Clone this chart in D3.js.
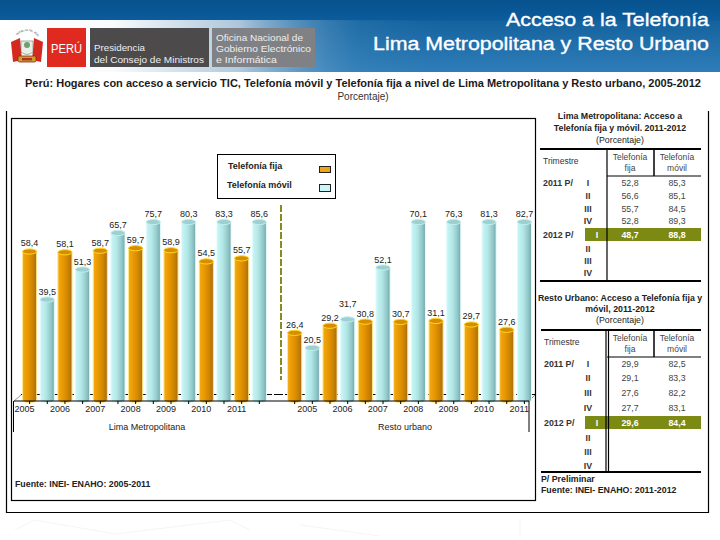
<!DOCTYPE html>
<html><head><meta charset="utf-8">
<script src="https://cdnjs.cloudflare.com/ajax/libs/d3/7.8.5/d3.min.js"></script>
<style>html,body{margin:0;padding:0;background:#fff}svg{display:block}text{font-family:"Liberation Sans",Arial,sans-serif}</style>
</head><body><svg id="c" width="720" height="540"></svg>
<script>
const years=["2005","2006","2007","2008","2009","2010","2011"];
const fijaLima=[58.4,58.1,58.7,59.7,58.9,54.5,55.7];
const movilLima=[39.5,51.3,65.7,75.7,80.3,83.3,85.6];
const fijaUrbano=[26.4,29.2,30.8,30.7,31.1,29.7,27.6];
const movilUrbano=[20.5,31.7,52.1,70.1,76.3,81.3,82.7];
const trimestres=["I","II","III","IV","I","II","III","IV"];
const limaFijaTabla=["52,8","56,6","55,7","52,8","48,7"];
const limaMovilTabla=["85,3","85,1","84,5","89,3","88,8"];
const urbanoFijaTabla=["29,9","29,1","27,6","27,7","29,6"];
const urbanoMovilTabla=["82,5","83,3","82,2","83,1","84,4"];

const svg=d3.select("#c"),defs=svg.append("defs");
function grad(id,stops,x2=1,y2=0){const g=defs.append("linearGradient").attr("id",id).attr("x1",0).attr("y1",0).attr("x2",x2).attr("y2",y2);
 stops.forEach(s=>g.append("stop").attr("offset",s[0]).attr("stop-color",s[1]).attr("stop-opacity",s[2]===undefined?1:s[2]));}
grad("hdr",[[0,"#07528f"],[.27,"#0c5b9b"],[.3,"#14639f"],[1,"#2f7db8"]],0,1);
grad("fade",[[0,"#fff",1],[.16,"#fff",.97],[.33,"#c9d9e6",.85],[.5,"#4d8fc0",.2],[.62,"#2f7db8",0]]);
grad("og",[[0,"#f5aa10"],[.45,"#e49300"],[.75,"#c98200"],[1,"#a8691a"]]);
grad("cg",[[0,"#c9f6f6"],[.4,"#b4e8e8"],[.8,"#8fc4c6"],[1,"#6fa6a8"]]);

/* header */
svg.append("rect").attr("width",720).attr("height",72).attr("fill","url(#hdr)");
svg.append("rect").attr("y",20).attr("width",720).attr("height",52).attr("fill","url(#fade)");
const hdr=svg.append("g").attr("fill","#fff").attr("text-anchor","end").attr("stroke","#fff").attr("stroke-width",.35);
hdr.append("text").attr("x",709).attr("y",26).attr("font-size",18).attr("textLength",203).attr("lengthAdjust","spacingAndGlyphs").text("Acceso a la Telefonía");
hdr.append("text").attr("x",709).attr("y",50).attr("font-size",18).attr("textLength",336).attr("lengthAdjust","spacingAndGlyphs").text("Lima Metropolitana y Resto Urbano");

/* crest */
const cr=svg.append("g");
cr.append("path").attr("d","M11 42 L20 38 L22 60 L13 62 Z M43 42 L34 38 L32 60 L41 62 Z").attr("fill","#d5281e");
const crestText="REPUBLICA DEL PERU";
const crestAngles=Array.from(crestText,(c,i)=>-48+96*i/(crestText.length-1));
cr.append("text").attr("font-size",2.6).attr("fill","#555")
 .attr("x",crestAngles.map(a=>(27+13*Math.sin(a*Math.PI/180)).toFixed(1)).join(" "))
 .attr("y",crestAngles.map(a=>(44-13*Math.cos(a*Math.PI/180)).toFixed(1)).join(" "))
 .attr("rotate",crestAngles.map(a=>a.toFixed(0)).join(" ")).text(crestText);
cr.append("path").attr("d","M21 41 L33 41 L33 52 Q27 57 21 52 Z").attr("fill","#e9efe6").attr("stroke","#777").attr("stroke-width",.6);
cr.append("circle").attr("cx",27).attr("cy",45).attr("r",3).attr("fill","#6fa06f");
cr.append("rect").attr("x",18).attr("y",56).attr("width",18).attr("height",6).attr("rx",1.5).attr("fill","#c8a02a").attr("stroke","#8a2a1c").attr("stroke-width",.8);
cr.append("rect").attr("x",22).attr("y",58).attr("width",10).attr("height",2.4).attr("fill","#b5301f");

/* logo boxes */
const boxes=[[47,39,"#e12a1f"],[90,119,"#4c4a4b"],[212,103,"#808184"]];
svg.append("g").selectAll("rect").data(boxes).join("rect").attr("x",d=>d[0]).attr("y",28).attr("width",d=>d[1]).attr("height",39).attr("fill",d=>d[2]);
const lt=(s,x,y,fs,tl)=>svg.append("text").attr("x",x).attr("y",y).attr("font-size",fs).attr("fill","#eeeeee").attr("textLength",tl).attr("lengthAdjust","spacingAndGlyphs").text(s);
lt("PERÚ",51,53,12,31).attr("fill","#fff");
lt("Presidencia",94,51,9,51);
lt("del Consejo de Ministros",94,63,9,110);
lt("Oficina Nacional de",216,41,9,87);
lt("Gobierno Electrónico",216,52,9,95);
lt("e Informática",216,63,9,61);

/* main title */
svg.append("text").attr("x",25).attr("y",87).attr("font-size",10.5).attr("font-weight","bold").attr("fill","#1a1a1a").attr("textLength",676).attr("lengthAdjust","spacingAndGlyphs")
 .text("Perú: Hogares con acceso a servicio TIC, Telefonía móvil y Telefonía fija a nivel de Lima Metropolitana y Resto urbano, 2005-2012");
svg.append("text").attr("x",363).attr("y",100).attr("text-anchor","middle").attr("font-size",10).attr("fill","#333").text("Porcentaje)");

/* frames */
svg.append("path").attr("d","M6.5 111V512.5H708.5V111").attr("fill","none").attr("stroke","#000").attr("stroke-width",1.2);
svg.append("rect").attr("x",11.5).attr("y",118.5).attr("width",524).attr("height",382).attr("fill","none").attr("stroke","#000").attr("stroke-width",1.2);

/* chart */
const data=[];
years.forEach((y,i)=>{data.push({k:"L"+y+"f",v:fijaLima[i],t:"f"});data.push({k:"L"+y+"m",v:movilLima[i],t:"m"});});
const gapKey="gap";
years.forEach((y,i)=>{data.push({k:"U"+y+"f",v:fijaUrbano[i],t:"f"});data.push({k:"U"+y+"m",v:movilUrbano[i],t:"m"});});
const domain=[];data.forEach((d,i)=>{if(i===14)domain.push(gapKey);domain.push(d.k);});
const x=d3.scaleBand().domain(domain).range([19,535]).padding(.2);
const yS=d3.scaleLinear().domain([0,70]).range([400,222]).clamp(true);
const bw=x.bandwidth(),ry=2.6;
const axisY=401;

svg.append("line").attr("x1",21).attr("x2",535).attr("y1",394.5).attr("y2",394.5).attr("stroke","#000").attr("stroke-width",1).attr("stroke-dasharray","9 2");
svg.append("path").attr("d","M14 401L21 395M529 401L535 395").attr("stroke","#777").attr("fill","none").attr("stroke-width",.8);
svg.append("line").attr("x1",281).attr("x2",281).attr("y1",205).attr("y2",380).attr("stroke","#8a8a22").attr("stroke-width",2).attr("stroke-dasharray","7 2");

const bars=svg.append("g").selectAll("g").data(data).join("g");
bars.append("path")
 .attr("d",d=>{const l=x(d.k),r=l+bw,t=yS(d.v),b=yS(0);return `M${l} ${t}V${b}A${bw/2} ${ry} 0 0 0 ${r} ${b}V${t}Z`;})
 .attr("fill",d=>d.t==="f"?"url(#og)":"url(#cg)")
 .attr("stroke",d=>d.t==="f"?"#ffe88a":"#e4fbfb").attr("stroke-width",1);
bars.append("ellipse").attr("cx",d=>x(d.k)+bw/2).attr("cy",d=>yS(d.v)).attr("rx",bw/2).attr("ry",ry)
 .attr("fill",d=>d.t==="f"?"#d88c00":"#9dd0d0")
 .attr("stroke",d=>d.t==="f"?"#ffd820":"#c4eeee").attr("stroke-width",1);
bars.append("text").attr("x",d=>x(d.k)+bw/2).attr("y",d=>yS(d.v)-(d.k==="U2006m"?12:5)).attr("text-anchor","middle").attr("font-size",9).attr("fill","#222")
 .text(d=>d.v.toFixed(1).replace(".",","));

const ax=svg.append("g").attr("transform",`translate(0,${axisY})`).call(d3.axisBottom(x).tickSize(3).tickFormat(""));
ax.select(".domain").remove();
ax.selectAll("line").attr("stroke","#000");
ax.selectAll(".tick").filter(d=>d===gapKey).remove();
svg.append("path").attr("d",`M14 ${axisY}H529M13.5 ${axisY}V432M529 ${axisY}V432`).attr("fill","none").attr("stroke","#000").attr("stroke-width",1);

svg.append("g").selectAll("text").data(years).join("text").attr("x",d=>x("L"+d+"f")+bw/2-5).attr("y",412).attr("text-anchor","middle").attr("font-size",9).attr("fill","#222").text(d=>d);
svg.append("g").selectAll("text").data(years).join("text").attr("x",d=>x("U"+d+"f")+bw/2+12.5).attr("y",412).attr("text-anchor","middle").attr("font-size",9).attr("fill","#222").text(d=>d);
const sm=(s,xx,yy,fs,a,w,f)=>svg.append("text").attr("x",xx).attr("y",yy).attr("font-size",fs).attr("text-anchor",a||"start").attr("font-weight",w||"normal").attr("fill",f||"#222").text(s);
sm("Lima Metropolitana",147,430,9,"middle");
sm("Resto urbano",405,430,9,"middle");
sm("Fuente: INEI- ENAHO: 2005-2011",15,487,8.8,"start","bold");

/* legend */
svg.append("rect").attr("x",217.5).attr("y",154.5).attr("width",118).attr("height",44).attr("fill","#fff").attr("stroke","#000").attr("stroke-width",1);
sm("Telefonía fija",228,169,9,"start","bold");
sm("Telefonía móvil",227,188,9,"start","bold");
svg.append("rect").attr("x",319.5).attr("y",166.5).attr("width",11).attr("height",6).attr("fill","#f0a415").attr("stroke","#222");
svg.append("rect").attr("x",319.5).attr("y",184.5).attr("width",11).attr("height",7).attr("fill","#c9f6f6").attr("stroke","#222");

/* side tables */
function table(o){
 o.title.forEach((s,i)=>sm(s,o.cx,o.titleY[i],8.8,"middle",i<2?"bold":"normal"));
 const L=o.left,R=701,top=o.top,bot=o.bottom;
 const ln=(x1,y1,x2,y2,w)=>svg.append("line").attr("x1",x1).attr("y1",y1).attr("x2",x2).attr("y2",y2).attr("stroke","#000").attr("stroke-width",w);
 svg.append("rect").attr("x",585).attr("y",o.rows[4]-7).attr("width",116).attr("height",13).attr("fill","#7c8a14");
 ln(L,top,R,top,2);ln(L,bot,R,bot,2);
 o.vx.forEach(v=>ln(v,top,v,bot,1.2));
 ln(654,top,654,top+27,1.5);ln(607,top+27,R,top+27,1);
 sm("Trimestre",L+3,top+15,8.5,"start","normal","#333");
 [[630,"fija"],[677,"móvil"]].forEach(c=>{sm("Telefonía",c[0],top+11,8.5,"middle","normal","#444");sm(c[1],c[0],top+22,8.5,"middle","normal","#444");});
 sm("2011 P/",L+3,o.rows[0]+3,8.8,"start","bold","#333");
 sm("2012 P/",L+3,o.rows[4]+3,8.8,"start","bold","#333");
 svg.append("g").selectAll("text").data(trimestres).join("text").attr("x",(d,i)=>i===4?597:588).attr("y",(d,i)=>o.rows[i]+3).attr("text-anchor","middle").attr("font-size",8.8).attr("font-weight","bold").attr("fill",(d,i)=>i===4?"#fff":"#333").text(d=>d);
 [[o.fija,630],[o.movil,677]].forEach(c=>svg.append("g").selectAll("text").data(c[0]).join("text").attr("x",c[1]).attr("y",(d,i)=>o.rows[i]+3).attr("text-anchor","middle").attr("font-size",8.8).attr("font-weight",(d,i)=>i===4?"bold":"normal").attr("fill",(d,i)=>i===4?"#fff":"#444").text(d=>d));
}
table({title:["Lima Metropolitana: Acceso a","Telefonía fija y móvil. 2011-2012","(Porcentaje)"],titleY:[119,131,143],cx:620,left:540,top:149,bottom:281,vx:[607],rows:[183,196,209,221,235,249,261,273],fija:limaFijaTabla,movil:limaMovilTabla});
table({title:["Resto Urbano: Acceso a Telefonía fija y","móvil, 2011-2012","(Porcentaje)"],titleY:[301,312,323],cx:620,left:541,top:330,bottom:472,vx:[606,608.5],rows:[364,378,393,408,423,438,452,466],fija:urbanoFijaTabla,movil:urbanoMovilTabla});
sm("P/ Preliminar",541,482,8.8,"start","bold");
sm("Fuente: INEI- ENAHO: 2011-2012",541,493,8.8,"start","bold");

/* faint watermark */
svg.append("path").attr("d","M15 530L35 520L115 534L230 520L250 530M300 525L380 536M520 518V538").attr("fill","none").attr("stroke","#f5f5f5").attr("stroke-width",1);
</script></body></html>
